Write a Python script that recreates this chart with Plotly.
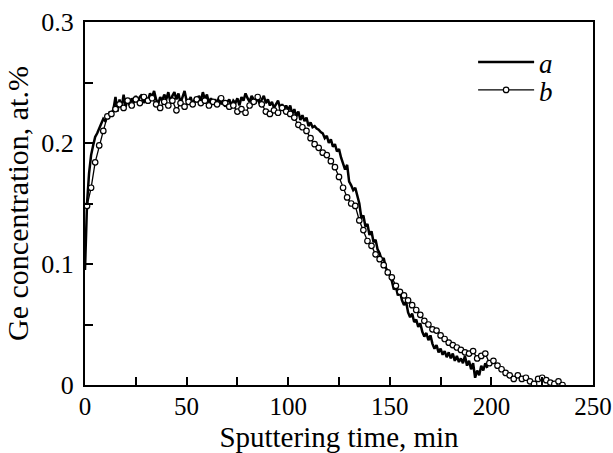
import plotly.graph_objects as go

# Series a: time (min) and Ge concentration (at.%)
t_a = list(range(0, 199))
c_a = [
    0.095, 0.150, 0.175, 0.190, 0.198, 0.205, 0.208, 0.212, 0.215, 0.220,
    0.218, 0.222, 0.225, 0.224, 0.228, 0.238, 0.226, 0.236, 0.229, 0.240,
    0.230, 0.236, 0.231, 0.237, 0.233, 0.239, 0.234, 0.238, 0.240, 0.233,
    0.237, 0.235, 0.241, 0.238, 0.243, 0.236, 0.232, 0.238, 0.235, 0.240,
    0.236, 0.242, 0.234, 0.239, 0.242, 0.236, 0.241, 0.233, 0.238, 0.243,
    0.235, 0.233, 0.238, 0.232, 0.236, 0.234, 0.239, 0.235, 0.242, 0.236,
    0.240, 0.233, 0.237, 0.232, 0.236, 0.233, 0.238, 0.232, 0.235, 0.230,
    0.234, 0.236, 0.231, 0.235, 0.233, 0.237, 0.231, 0.238, 0.235, 0.241,
    0.237, 0.234, 0.239, 0.236, 0.233, 0.238, 0.232, 0.236, 0.239, 0.233,
    0.236, 0.231, 0.234, 0.229, 0.232, 0.235, 0.229, 0.232, 0.228, 0.231,
    0.227, 0.231, 0.224, 0.228, 0.222, 0.226, 0.219, 0.223, 0.218, 0.221,
    0.214, 0.217, 0.213, 0.214, 0.212, 0.211, 0.209, 0.208, 0.204, 0.206,
    0.200, 0.203, 0.197, 0.199, 0.193, 0.195, 0.188, 0.183, 0.178, 0.182,
    0.168, 0.165, 0.161, 0.163, 0.156, 0.150, 0.138, 0.140, 0.131, 0.133,
    0.124, 0.127, 0.118, 0.120, 0.112, 0.109, 0.103, 0.105, 0.097, 0.094,
    0.091, 0.086, 0.079, 0.081, 0.074, 0.077, 0.070, 0.066, 0.069, 0.060,
    0.056, 0.059, 0.052, 0.054, 0.048, 0.051, 0.044, 0.040, 0.043, 0.037,
    0.041, 0.034, 0.030, 0.033, 0.027, 0.030, 0.025, 0.028, 0.023, 0.027,
    0.022, 0.026, 0.020, 0.024, 0.019, 0.022, 0.018, 0.024, 0.016, 0.020,
    0.013, 0.018, 0.006, 0.012, 0.008, 0.016, 0.012, 0.018, 0.014,
]

# Series b: time (min) and Ge concentration (at.%)
t_b = list(range(1, 236, 2))
c_b = [
    0.148, 0.163, 0.184, 0.198, 0.210, 0.222, 0.224, 0.228, 0.232, 0.229,
    0.235, 0.231, 0.236, 0.233, 0.238, 0.235, 0.237, 0.232, 0.229, 0.234,
    0.231, 0.235, 0.227, 0.233, 0.230, 0.234, 0.232, 0.236, 0.233, 0.235,
    0.231, 0.234, 0.232, 0.237, 0.233, 0.230, 0.231, 0.226, 0.228, 0.225,
    0.231, 0.234, 0.238, 0.232, 0.226, 0.224, 0.227, 0.225, 0.229, 0.226,
    0.224, 0.221, 0.215, 0.213, 0.210, 0.204, 0.199, 0.196, 0.192, 0.190,
    0.185, 0.180, 0.172, 0.163, 0.155, 0.150, 0.148, 0.136, 0.128, 0.119,
    0.115, 0.108, 0.104, 0.099, 0.093, 0.089, 0.082, 0.077, 0.074, 0.070,
    0.066, 0.062, 0.058, 0.053, 0.050, 0.046, 0.045, 0.041, 0.038, 0.035,
    0.033, 0.031, 0.029, 0.027, 0.026, 0.028, 0.022, 0.024, 0.026, 0.018,
    0.020, 0.016, 0.013, 0.010, 0.008, 0.005, 0.008, 0.005, 0.006, 0.003,
    0.001, 0.005, 0.006, 0.004, 0.002, 0.001, 0.003, 0.000,
]

x_ticks = [0, 50, 100, 150, 200, 250]
y_ticks = [0, 0.1, 0.2, 0.3]
y_tick_labels = ["0", "0.1", "0.2", "0.3"]

FONT = "Liberation Serif, Times New Roman, serif"

fig = go.Figure()
fig.add_trace(go.Scatter(
    x=t_a, y=c_a, mode="lines", name="<i>a</i>", legend="legend",
    line=dict(color="black", width=2.5),
))
fig.add_trace(go.Scatter(
    x=t_b, y=c_b, mode="lines+markers", name="<i>b</i>", legend="legend2",
    line=dict(color="black", width=1.3),
    marker=dict(symbol="circle", size=5.5, color="white",
                line=dict(color="black", width=1.2)),
))

leg_common = dict(xanchor="left", yanchor="top", bgcolor="rgba(0,0,0,0)",
                  font=dict(family=FONT, size=27), itemwidth=56)

fig.update_layout(
    width=613, height=453,
    margin=dict(l=85, r=20, t=22, b=68, autoexpand=False),
    paper_bgcolor="white", plot_bgcolor="white",
    font=dict(family=FONT, size=25, color="black"),
    showlegend=True,
    legend=dict(x=0.764, y=0.956, **leg_common),
    legend2=dict(x=0.764, y=0.879, **leg_common),
)
fig.update_xaxes(
    range=[0, 250], tickvals=x_ticks, automargin=False,
    showline=True, linecolor="black", linewidth=2, mirror=True,
    ticks="inside", ticklen=8, tickwidth=2, tickcolor="black",
    minor=dict(dtick=25, tick0=0, ticks="inside", ticklen=8, tickwidth=2, tickcolor="black"),
    showgrid=False, zeroline=False, ticklabelstandoff=-2,
    title=dict(text="Sputtering time, min", font=dict(family=FONT, size=29), standoff=14),
    tickfont=dict(family=FONT, size=25),
)
fig.update_yaxes(
    range=[0, 0.3], tickvals=y_ticks, ticktext=y_tick_labels, automargin=False,
    showline=True, linecolor="black", linewidth=2, mirror=True,
    ticks="inside", ticklen=8, tickwidth=2, tickcolor="black",
    minor=dict(dtick=0.05, tick0=0, ticks="inside", ticklen=8, tickwidth=2, tickcolor="black"),
    showgrid=False, zeroline=False, ticklabelstandoff=4,
    title=dict(text="Ge concentration, at.%", font=dict(family=FONT, size=30), standoff=4),
    tickfont=dict(family=FONT, size=26),
)

fig.write_html("out.html", config={"displayModeBar": False},
               post_script="document.body.style.margin='0';document.body.style.overflow='hidden';")
